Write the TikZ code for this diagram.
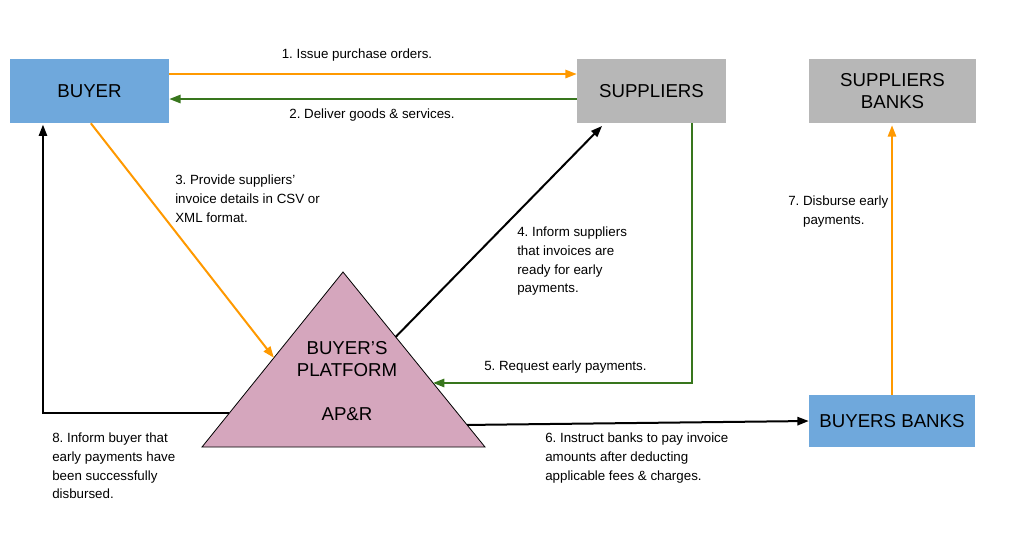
\documentclass[tikz,border=0pt]{standalone}
\usepackage{fontspec}
\setmainfont{Liberation Sans}
\usetikzlibrary{arrows.meta}
\definecolor{buyerblue}{HTML}{6FA8DC}
\definecolor{supgrey}{HTML}{B7B7B7}
\definecolor{platpink}{HTML}{D5A6BD}
\definecolor{floworange}{HTML}{FF9900}
\definecolor{flowgreen}{HTML}{38761D}
\frenchspacing
\begin{document}
\begin{tikzpicture}[x=0.75pt, y=-0.75pt,
    party/.style={rectangle, inner sep=0pt, align=center, font=\fontsize{14}{16.5}\selectfont},
    flow/.style={line width=1.5pt, -{Triangle[length=8.5pt, width=6.2pt]}},
    lbl/.style={inner sep=0pt, align=left, font=\fontsize{10}{13.9}\selectfont}]
    \useasboundingbox (0,0) rectangle (1020,558);

    % Parties
    \node[party, fill=buyerblue, minimum width=119.25pt, minimum height=48pt] (buyer) at (89.5,91) {BUYER};
    \node[party, fill=supgrey, minimum width=111.75pt, minimum height=48pt] (suppliers) at (651.5,91) {SUPPLIERS};
    \node[party, fill=supgrey, minimum width=125.25pt, minimum height=48pt] (supbanks) at (892.5,91) {SUPPLIERS\\BANKS};
    \node[party, fill=buyerblue, minimum width=124.5pt, minimum height=39pt] (buybanks) at (892,421) {BUYERS BANKS};

    % Platform triangle
    \coordinate (apex) at (343,272);
    \coordinate (baseL) at (202,447);
    \coordinate (baseR) at (485,447);
    \filldraw[fill=platpink, draw=black, line width=0.6pt] (apex) -- (baseL) -- (baseR) -- cycle;
    \path (apex) -- (baseL) coordinate[pos=0.49] (platin3) coordinate[pos=0.806] (platout8);
    \path (apex) -- (baseR) coordinate[pos=0.371] (platout4) coordinate[pos=0.634] (platin5) coordinate[pos=0.874] (platout6);
    \node[party] (platform) at (347,381) {BUYER’S\\PLATFORM\\[16.5pt]AP\&R};

    % Flows
    \draw[flow, floworange] ([yshift=12.75pt]buyer.east) -- ([yshift=12.75pt]suppliers.west); % 1
    \draw[flow, flowgreen] ([yshift=-6pt]suppliers.west) -- ([yshift=-6pt]buyer.east); % 2
    \draw[flow, floworange] ([xshift=1pt]buyer.south) -- (platin3); % 3
    \draw[flow, black] (platout4) -- ([xshift=19pt,yshift=-2pt]suppliers.south west); % 4
    \draw[flow, flowgreen] ([xshift=30.4pt]suppliers.south) |- (platin5); % 5
    \draw[flow, black] (platout6) -- (buybanks.west); % 6
    \draw[flow, floworange] (buybanks.north) -- ([yshift=-1.5pt]buybanks.north |- supbanks.south); % 7
    \draw[flow, black] (platout8) -| ([xshift=-34.9pt,yshift=-1pt]buyer.south); % 8

    % Labels
    \node[lbl] (lbl1) at (357,55) {1. Issue purchase orders.};
    \node[lbl] (lbl2) at (372,115) {2. Deliver goods \& services.};
    \node[lbl, anchor=north west] (lbl3) at (175,175) {3. Provide suppliers’\\invoice details in CSV or\\XML format.};
    \node[lbl, anchor=north west] (lbl4) at (517,227) {4. Inform suppliers\\that invoices are\\ready for early\\payments.};
    \node[lbl, anchor=west] (lbl5) at (484,367) {5. Request early payments.};
    \node[lbl, anchor=north west] (lbl6) at (545,433) {6. Instruct banks to pay invoice\\amounts after deducting\\applicable fees \& charges.};
    \node[lbl, anchor=north west] (lbl7) at (788,196) {7. Disburse early\\\phantom{7. }payments.};
    \node[lbl, anchor=north west] (lbl8) at (52,433) {8. Inform buyer that\\early payments have\\been successfully\\disbursed.};
\end{tikzpicture}
\end{document}
